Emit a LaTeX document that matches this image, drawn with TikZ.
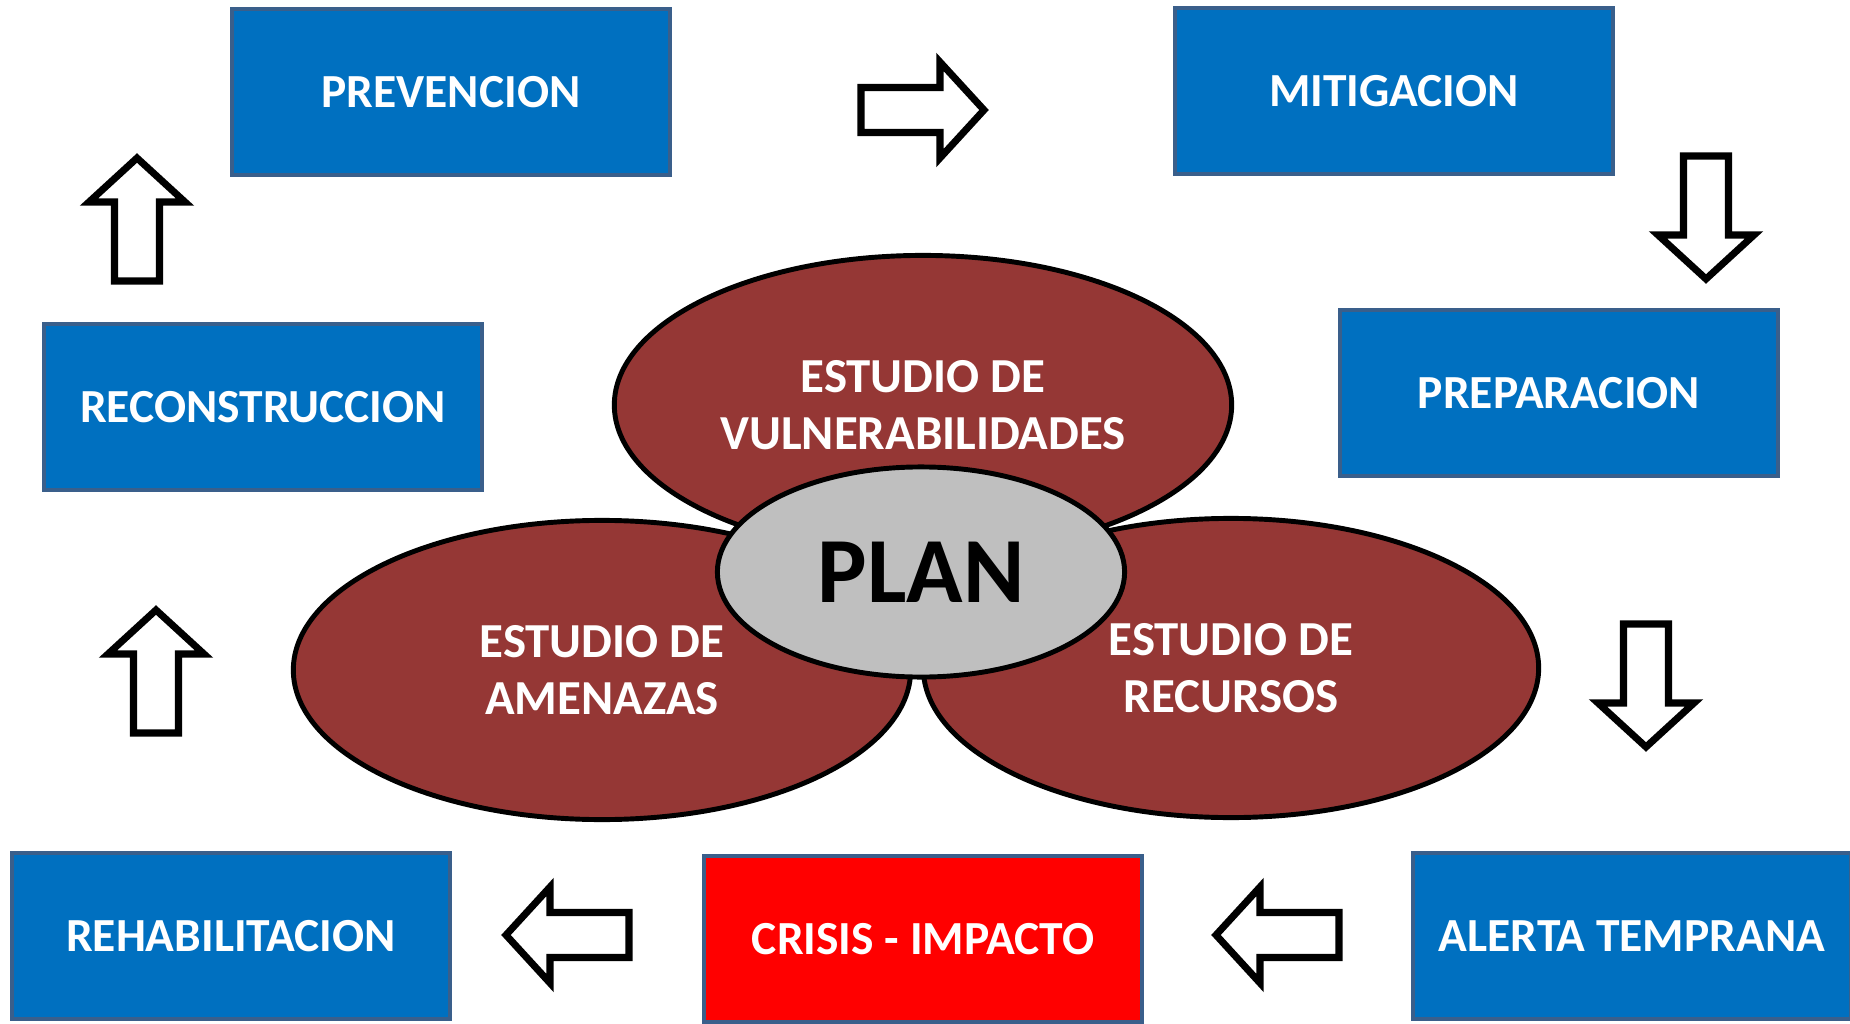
\documentclass[tikz,border=0pt]{standalone}
\usepackage{fontspec}
\setmainfont{Carlito}
\usetikzlibrary{shapes.geometric}

\definecolor{phaseblue}{HTML}{0070C0}
\definecolor{phaseline}{HTML}{3A5F8B}
\definecolor{crisisred}{HTML}{FF0000}
\definecolor{studyred}{HTML}{953735}
\definecolor{plangray}{HTML}{BFBFBF}

\begin{document}
\begin{tikzpicture}[x=0.01cm,y=-0.01cm,
  phase/.style={draw=phaseline,line width=1.1pt,fill=phaseblue,text=white,
    minimum width=4.38cm,minimum height=1.66cm,inner sep=0pt,
    font=\fontsize{13.5}{16}\selectfont\bfseries},
  study/.style={ellipse,draw=black,line width=1.4pt,fill=studyred,text=white,
    minimum width=6.17cm,minimum height=2.99cm,inner sep=0pt,align=center,
    font=\fontsize{13.9}{16.1}\selectfont\bfseries},
  hollowarrow/.style={draw=black,line width=2pt,fill=white}]

\useasboundingbox (0,0) rectangle (1850,1024);

% cycle of phases
\node[phase] (prev) at (451,92) {PREVENCION};
\node[phase] (miti) at (1394,91) {MITIGACION};
\node[phase] (prep) at (1559,393) {PREPARACION};
\node[phase] (alert) at (1632,936) {ALERTA TEMPRANA};
\node[phase,fill=crisisred] (crisis) at (923,939) {CRISIS - IMPACTO};
\node[phase] (rehab) at (231,936) {REHABILITACION};
\node[phase] (recon) at (263,407) {RECONSTRUCCION};

% hollow block arrows between the phases (tail x / tail y / angle)
\foreach \px/\py/\ang in {861/110/0, 1706/156/-90, 1646/624/-90,
    1339/935/180, 629/935/180, 156/733/90, 137/281/90}
  \draw[hollowarrow,shift={(\px,\py)},rotate=\ang]
    (0,-22.5) -- (79,-22.5) -- (79,-48) -- (123,0)
    -- (79,48) -- (79,22.5) -- (0,22.5) -- cycle;

% the three studies
\node[study] (vuln) at (923,405) {ESTUDIO DE\\VULNERABILIDADES};
\node[study] (amen) at (602,670) {ESTUDIO DE\\AMENAZAS};
\node[study,minimum width=6.15cm] (recu) at (1231,668) {ESTUDIO DE\\RECURSOS};

% plan in the middle
\node[ellipse,draw=black,line width=1.4pt,fill=plangray,inner sep=0pt,
  minimum width=4.07cm,minimum height=2.10cm,
  font=\fontsize{26.5}{30}\selectfont\bfseries] (plan) at (921,572) {PLAN};

\end{tikzpicture}
\end{document}
